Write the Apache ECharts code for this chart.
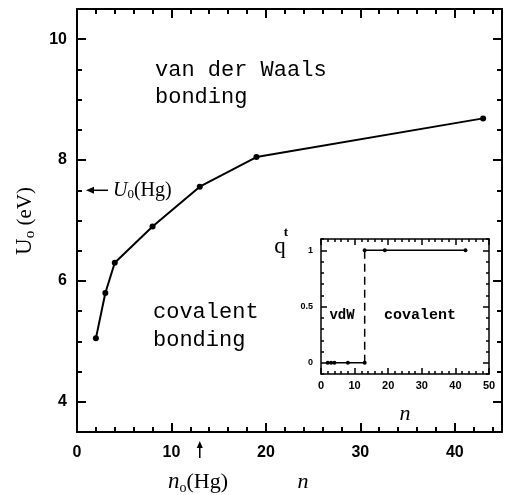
<!DOCTYPE html>
<html><head><meta charset="utf-8">
<script src="https://cdn.jsdelivr.net/npm/echarts@6/dist/echarts.min.js"></script>
<style>html,body{margin:0;padding:0;background:#fff}#c{width:505px;height:495px}</style>
</head><body><div id="c"></div>
<script>
// ---- data ----
const mainN = [2, 3, 4, 8, 13, 19, 43];
const mainU = [5.05, 5.80, 6.30, 6.90, 7.56, 8.05, 8.69];
const mainXTicks = [0, 10, 20, 30, 40];
const mainYTicks = [4, 6, 8, 10];
const insetNLow = [2, 3, 4, 8, 13];
const insetQLow = [0, 0, 0, 0, 0];
const insetNHigh = [13, 19, 43];
const insetQHigh = [1, 1, 1];
const insetXTicks = [0, 10, 20, 30, 40, 50];
const insetYTicks = [0, 0.5, 1];
const hgU0 = 7.5;   // U0(Hg)
const hgN0 = 13;    // n0(Hg)

function range(a, b, s) { const r = []; for (let v = a; v <= b + 1e-9; v += s) r.push(Math.round(v * 1000) / 1000); return r; }
function minorOf(a, b, s, majors) { return range(a, b, s).filter(v => !majors.some(m => Math.abs(m - v) < 1e-6)); }

function axisSet(grid, min, max, majors, minors, pos1, pos2, lenMaj, lenMin, label, lw) {
  const ls = { color: '#000', width: lw };
  const base = { gridIndex: grid, type: 'value', min: min, max: max, splitLine: { show: false } };
  return [
    Object.assign({}, base, { position: pos1, axisLine: { show: true, onZero: false, lineStyle: ls },
      axisTick: { show: true, inside: true, length: lenMaj, customValues: majors, lineStyle: ls },
      axisLabel: Object.assign({ show: true, customValues: majors, color: '#000' }, label) }),
    Object.assign({}, base, { position: pos1, axisLine: { show: false, onZero: false },
      axisTick: { show: true, inside: true, length: lenMin, customValues: minors, lineStyle: ls },
      axisLabel: { show: false } }),
    Object.assign({}, base, { position: pos2, axisLine: { show: true, onZero: false, lineStyle: ls },
      axisTick: { show: true, inside: true, length: lenMaj, customValues: majors, lineStyle: ls },
      axisLabel: { show: false } }),
    Object.assign({}, base, { position: pos2, axisLine: { show: false, onZero: false },
      axisTick: { show: true, inside: true, length: lenMin, customValues: minors, lineStyle: ls },
      axisLabel: { show: false } })
  ];
}

const mainLabel = { fontFamily: 'Liberation Sans', fontWeight: 'bold', fontSize: 16 };
const insetLabel = { fontFamily: 'Liberation Sans', fontWeight: 'bold', fontSize: 11 };

const xAxes = [].concat(
  axisSet(0, 0, 45, mainXTicks, minorOf(0, 44, 2, mainXTicks), 'bottom', 'top', 9, 5, Object.assign({ margin: 13 }, mainLabel), 2),
  axisSet(1, 0, 50, insetXTicks, minorOf(0, 50, 2, insetXTicks), 'bottom', 'top', 6, 3, Object.assign({ margin: 6 }, insetLabel), 1.5)
);
const yAxes = [].concat(
  axisSet(0, 3.5, 10.5, mainYTicks, minorOf(3.5, 10.5, 0.5, mainYTicks), 'left', 'right', 9, 5, Object.assign({ margin: 10 }, mainLabel), 2),
  axisSet(1, -0.1, 1.1, insetYTicks, minorOf(-0.1, 1.1, 0.1, insetYTicks), 'left', 'right', 6, 3, Object.assign({ margin: 8, formatter: v => String(v) }, insetLabel, { fontSize: 9 }), 1.5)
);

const chart = echarts.init(document.getElementById('c'), null, { renderer: 'canvas' });
const option = {
  backgroundColor: '#fff',
  animation: false,
  grid: [
    { left: 77, top: 9, right: 3, bottom: 63, outerBoundsMode: 'none', containLabel: false },
    { left: 321, top: 239, right: 16, bottom: 121, outerBoundsMode: 'none', containLabel: false, show: true, backgroundColor: '#fff', borderWidth: 0 }
  ],
  xAxis: xAxes,
  yAxis: yAxes,
  series: [
    { type: 'line', xAxisIndex: 0, yAxisIndex: 0, data: mainN.map((n, i) => [n, mainU[i]]),
      symbol: 'circle', symbolSize: 6, lineStyle: { color: '#000', width: 2 }, itemStyle: { color: '#000' }, z: 3 },
    { type: 'line', xAxisIndex: 4, yAxisIndex: 4, data: insetNLow.map((n, i) => [n, insetQLow[i]]),
      symbol: 'circle', symbolSize: 4, lineStyle: { color: '#000', width: 1.5 }, itemStyle: { color: '#000' }, z: 5 },
    { type: 'line', xAxisIndex: 4, yAxisIndex: 4, data: insetNHigh.map((n, i) => [n, insetQHigh[i]]),
      symbol: 'circle', symbolSize: 4, lineStyle: { color: '#000', width: 1.5 }, itemStyle: { color: '#000' }, z: 5 },
    { type: 'line', xAxisIndex: 4, yAxisIndex: 4,
      data: [[insetNLow[insetNLow.length - 1], insetQLow[insetQLow.length - 1]], [insetNHigh[0], insetQHigh[0]]],
      showSymbol: false, symbol: 'none', lineStyle: { color: '#000', width: 1.5, type: [8, 5] }, z: 5 }
  ]
};
chart.setOption(option);

const yHg = chart.convertToPixel({ yAxisIndex: 0 }, hgU0);
const xHg = chart.convertToPixel({ xAxisIndex: 0 }, hgN0);
const mono = 'Liberation Mono';
const serif = 'Liberation Serif';
const txt = (x, y, text, font, extra) => Object.assign({ type: 'text', x: x, y: y, z: 10,
  style: Object.assign({ text: text, font: font, fill: '#000', align: 'left', verticalAlign: 'middle' }, extra || {}) });

chart.setOption({
  graphic: [
    txt(155, 70, 'van der Waals', '22px ' + mono),
    txt(155, 97, 'bonding', '22px ' + mono),
    txt(153, 312, 'covalent', '22px ' + mono),
    txt(153, 340, 'bonding', '22px ' + mono),
    txt(342, 315, 'vdW', 'bold 14px ' + mono, { align: 'center' }),
    txt(420, 315, 'covalent', 'bold 15px ' + mono, { align: 'center' }),
    txt(280, 247, 'q', '23px ' + serif, { align: 'center' }),
    txt(286, 233, 't', 'bold 13px ' + serif, { align: 'center' }),
    txt(405, 414, 'n', 'italic 22px ' + serif, { align: 'center' }),
    txt(303, 482, 'n', 'italic 22px ' + serif, { align: 'center' }),
    { type: 'text', x: 198, y: 482, z: 10, style: { text: '{n|n}{s|o}{h|(Hg)}', align: 'center', verticalAlign: 'middle',
        rich: { n: { font: 'italic 23px ' + serif, fill: '#000', lineHeight: 26, verticalAlign: 'middle' },
                s: { font: '14px ' + serif, fill: '#000', lineHeight: 26, verticalAlign: 'bottom' },
                h: { font: '22px ' + serif, fill: '#000', lineHeight: 26, verticalAlign: 'middle' } } } },
    { type: 'text', x: 113, y: yHg, z: 10, style: { text: '{u|U}{s|0}{h|(Hg)}', align: 'left', verticalAlign: 'middle',
        rich: { u: { font: 'italic 20px ' + serif, fill: '#000', lineHeight: 22, verticalAlign: 'middle' },
                s: { font: '13px ' + serif, fill: '#000', lineHeight: 22, verticalAlign: 'bottom' },
                h: { font: '20px ' + serif, fill: '#000', lineHeight: 22, verticalAlign: 'middle' } } } },
    { type: 'text', x: 25, y: 221, rotation: Math.PI / 2, z: 10, style: { text: '{u|U}{s|o}{h| (eV)}', align: 'center', verticalAlign: 'middle',
        rich: { u: { font: '23px ' + serif, fill: '#000', lineHeight: 26, verticalAlign: 'middle' },
                s: { font: '15px ' + serif, fill: '#000', lineHeight: 26, verticalAlign: 'bottom' },
                h: { font: '21px ' + serif, fill: '#000', lineHeight: 26, verticalAlign: 'middle' } } } },
    // left arrow to U0(Hg)
    { type: 'line', z: 10, shape: { x1: 89, y1: yHg, x2: 108, y2: yHg }, style: { stroke: '#000', lineWidth: 1.5 } },
    { type: 'polygon', z: 10, shape: { points: [[86, yHg], [94, yHg - 3.5], [94, yHg + 3.5]] }, style: { fill: '#000' } },
    // up arrow at n0(Hg)
    { type: 'line', z: 10, shape: { x1: xHg, y1: 458, x2: xHg, y2: 444 }, style: { stroke: '#000', lineWidth: 1.5 } },
    { type: 'polygon', z: 10, shape: { points: [[xHg, 441], [xHg - 3, 448], [xHg + 3, 448]] }, style: { fill: '#000' } }
  ]
});
</script>
</body></html>
